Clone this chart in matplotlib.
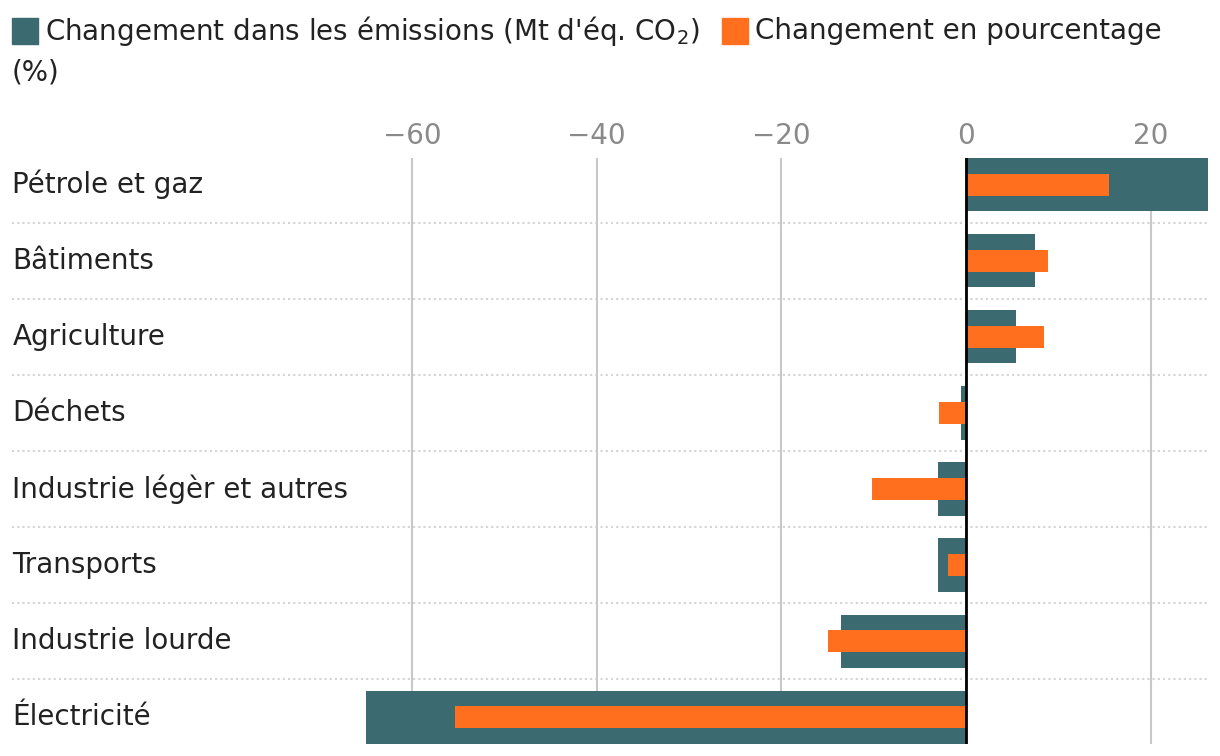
import matplotlib
matplotlib.use("Agg")
import matplotlib.pyplot as plt
from matplotlib.patches import Rectangle

plt.rcParams['font.family'] = ['DejaVu Sans']

secteurs = ['Pétrole et gaz', 'Bâtiments', 'Agriculture', 'Déchets',
            'Industrie légèr et autres', 'Transports', 'Industrie lourde', 'Électricité']
emissions = [26.2, 7.5, 5.4, -0.5, -3.0, -3.0, -13.5, -65.0]
pourcentage = [15.5, 8.9, 8.4, -2.9, -10.2, -2.0, -14.9, -55.4]
ticks = [-60, -40, -20, 0, 20]

teal = '#3b6a70'
orange = '#ff6f1e'
texte = '#222222'
fs = 20

fig = plt.figure(figsize=(12.2, 7.56), dpi=100)
ax = fig.add_axes([0.3, 0.016, 0.69, 0.775])

y = list(range(len(secteurs)))
ax.barh(y, emissions, height=0.7, color=teal, zorder=2)
ax.barh(y, pourcentage, height=0.29, color=orange, zorder=3)

ax.set_xlim(-65, 26.2)
ax.set_ylim(7.35, -0.35)
ax.axvline(0, color='black', lw=2, zorder=4)

ax.set_xticks(ticks)
ax.set_xticklabels(['\u2212' + str(-t) if t < 0 else str(t) for t in ticks])
ax.xaxis.tick_top()
ax.tick_params(axis='x', length=0, pad=6, labelsize=fs, labelcolor='#8a8a8a')
ax.set_yticks([])
ax.grid(axis='x', color='#c8c8c8', lw=1.5, zorder=0)
for s in ax.spines.values():
    s.set_visible(False)

# séparateurs pointillés entre les secteurs
for i in range(len(secteurs) - 1):
    ax.axhline(i + 0.5, xmin=-0.42, xmax=1, color='#d4d4d4', lw=1.5,
               ls=(0, (1, 1.5)), clip_on=False, zorder=1)

for i, nom in enumerate(secteurs):
    ax.text(-0.42, i, nom, transform=ax.get_yaxis_transform(), ha='left',
            va='center', fontsize=fs, color=texte)

# légende
fig.canvas.draw()
r = fig.canvas.get_renderer()
W, H = fig.bbox.width, fig.bbox.height
fig.patches.append(Rectangle((12 / W, 1 - 44 / H), 26 / W, 26 / H,
                             transform=fig.transFigure, color=teal))
t1 = fig.text(45 / W, 1 - 31 / H, "Changement dans les émissions (Mt d'éq. CO$_2$)",
              fontsize=fs, color=texte, va='center')
x_end = t1.get_window_extent(r).x1
fig.patches.append(Rectangle(((x_end + 22) / W, 1 - 44 / H), 26 / W, 26 / H,
                             transform=fig.transFigure, color=orange))
fig.text((x_end + 55) / W, 1 - 31 / H, "Changement en pourcentage",
         fontsize=fs, color=texte, va='center')
fig.text(12 / W, 1 - 72 / H, "(%)", fontsize=fs, color=texte, va='center')

fig.savefig('out.png', dpi=100)
